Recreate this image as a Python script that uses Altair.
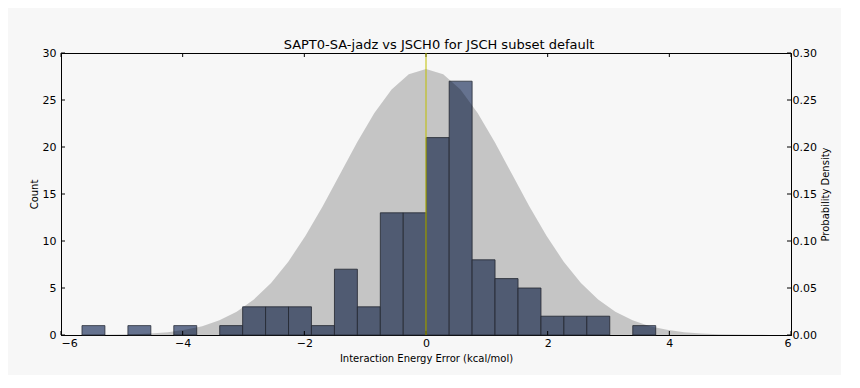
import altair as alt
import pandas as pd

# ---- data ----
bin_edges = [-5.655, -5.278, -4.900, -4.523, -4.146, -3.769, -3.391, -3.014,
             -2.637, -2.260, -1.883, -1.505, -1.128, -0.751, -0.374, 0.004,
             0.381, 0.758, 1.135, 1.513, 1.890, 2.267, 2.644, 3.021, 3.399, 3.776]
counts = [1, 0, 1, 0, 1, 0, 1, 3, 3, 3, 1, 7, 3, 13, 13, 21, 27, 8, 6, 5, 2, 2, 2, 0, 1]

curve_x = [-5.660, -5.377, -5.094, -4.811, -4.528, -4.245, -3.962, -3.679,
           -3.396, -3.113, -2.830, -2.547, -2.264, -1.981, -1.698, -1.415,
           -1.132, -0.849, -0.566, -0.283, 0.000, 0.283, 0.566, 0.849, 1.132,
           1.415, 1.698, 1.981, 2.264, 2.547, 2.830, 3.113, 3.396, 3.679,
           3.962, 4.245, 4.528, 4.811, 5.094, 5.377, 5.660]
curve_density = [0.0001, 0.0002, 0.0004, 0.0008, 0.0016, 0.0030, 0.0055, 0.0094,
                 0.0156, 0.0247, 0.0378, 0.0553, 0.0780, 0.1055, 0.1371, 0.1710,
                 0.2050, 0.2361, 0.2611, 0.2774, 0.2830, 0.2774, 0.2611, 0.2361,
                 0.2050, 0.1710, 0.1371, 0.1055, 0.0780, 0.0553, 0.0378, 0.0247,
                 0.0156, 0.0094, 0.0055, 0.0030, 0.0016, 0.0008, 0.0004, 0.0002,
                 0.0001]

x_ticks = [-6, -4, -2, 0, 2, 4, 6]
count_ticks = [0, 5, 10, 15, 20, 25, 30]
density_ticks = [0.0, 0.05, 0.10, 0.15, 0.20, 0.25, 0.30]
ref_line = [0]

title = "SAPT0-SA-jadz vs JSCH0 for JSCH subset default"
x_title = "Interaction Energy Error (kcal/mol)"

# ---- tables ----
bars = pd.DataFrame({"start": bin_edges[:-1], "end": bin_edges[1:], "count": counts})
bars = bars[bars["count"] > 0]
curve = pd.DataFrame({"x": curve_x, "density": curve_density})

W, H = 730, 282
FONT = "DejaVu Sans"
xscale = alt.Scale(domain=[-6, 6], nice=False, zero=False)
xaxis = alt.Axis(title=x_title, values=x_ticks, tickSize=0, labelPadding=2,
                 grid=False, domainColor="black", labelColor="black",
                 titleColor="black", labelFontSize=11, titleFontSize=10,
                 titleFontWeight="normal", titlePadding=5, labelFont=FONT,
                 titleFont=FONT)
cscale = alt.Scale(domain=[0, 30], nice=False)
dscale = alt.Scale(domain=[0, 0.3], nice=False)

bar_layer = alt.Chart(bars).mark_rect(
    color="#65728f", stroke="#2a2f3b", strokeWidth=1, strokeOpacity=0.8
).encode(
    x=alt.X("start:Q", scale=xscale, axis=xaxis),
    x2="end:Q",
    y=alt.Y("count:Q", scale=cscale,
            axis=alt.Axis(orient="left", title="Count", values=count_ticks,
                          tickSize=0, labelPadding=5, grid=False,
                          domainColor="black", labelColor="black",
                          titleColor="black", labelFontSize=11,
                          titleFontSize=10, titleFontWeight="normal",
                          titlePadding=3, labelFont=FONT, titleFont=FONT)),
    y2=alt.Y2(datum=0),
)

area_layer = alt.Chart(curve).mark_area(color="black", opacity=0.2).encode(
    x=alt.X("x:Q", scale=xscale, axis=xaxis),
    y=alt.Y("density:Q", scale=dscale,
            axis=alt.Axis(orient="right", title="Probability Density",
                          values=density_ticks, format=".2f", tickSize=0,
                          labelPadding=1, grid=False, domainColor="black",
                          labelColor="black", titleColor="black",
                          labelFontSize=11, titleFontSize=10,
                          titleFontWeight="normal", titlePadding=4,
                          titleAngle=270, titleBaseline="top",
                          labelFont=FONT, titleFont=FONT)),
)

xt = pd.DataFrame({"t": x_ticks})
ct = pd.DataFrame({"v": count_ticks})
dt = pd.DataFrame({"v": density_ticks})

xtick_bottom = alt.Chart(xt).mark_rule(color="black", strokeWidth=1).encode(
    x=alt.X("t:Q", scale=xscale, axis=xaxis),
    y=alt.value(H), y2=alt.value(H - 4))
xtick_top = alt.Chart(xt).mark_rule(color="black", strokeWidth=1).encode(
    x=alt.X("t:Q", scale=xscale, axis=xaxis),
    y=alt.value(0), y2=alt.value(4))
ctick = alt.Chart(ct).mark_rule(color="black", strokeWidth=1).encode(
    y=alt.Y("v:Q", scale=cscale, axis=None),
    x=alt.value(0), x2=alt.value(4))
dtick = alt.Chart(dt).mark_rule(color="black", strokeWidth=1).encode(
    y=alt.Y("v:Q", scale=dscale, axis=None),
    x=alt.value(W), x2=alt.value(W - 4))

vline = alt.Chart(pd.DataFrame({"x0": ref_line})).mark_rule(
    color="#bfbf00", strokeWidth=1).encode(
    x=alt.X("x0:Q", scale=xscale, axis=xaxis))

chart = alt.layer(
    bar_layer, area_layer, xtick_bottom, xtick_top, ctick, dtick, vline
).resolve_scale(y="independent").properties(
    width=W, height=H,
    title=alt.TitleParams(title, fontSize=13, font=FONT, fontWeight="normal",
                          color="black", offset=4, dx=13, dy=9, frame="group"),
    autosize=alt.AutoSizeParams(type="none"),
    padding={"left": 53, "top": 45, "right": 50, "bottom": 40},
    background="#f7f7f7",
).configure_view(stroke="black", strokeWidth=1)

chart.save("out.html", embed_options={"renderer": "svg", "actions": False})
